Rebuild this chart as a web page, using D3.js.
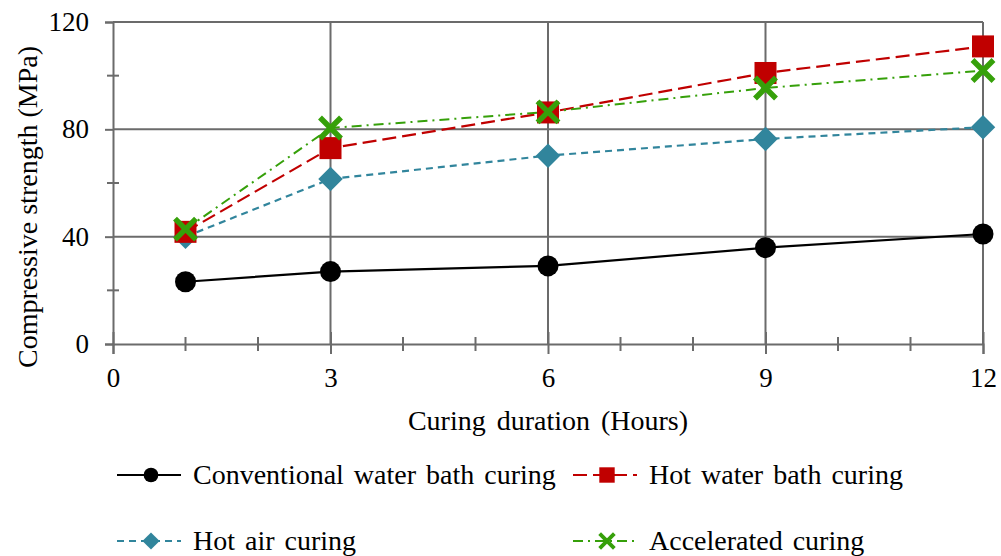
<!DOCTYPE html>
<html><head><meta charset="utf-8">
<script src="https://cdn.jsdelivr.net/npm/d3@7"></script>
</head><body><svg id="c" width="1001" height="556"></svg>
<script>
const hours = [1, 3, 6, 9, 12];
const conventional = [23.2, 27.0, 29.1, 35.9, 41.0];
const hotWater = [41.8, 73.0, 86.3, 101.0, 110.9];
const hotAir = [40.0, 61.5, 70.2, 76.4, 80.8];
const accelerated = [42.8, 80.5, 86.5, 95.4, 101.9];
const seriesNames = ["Conventional water bath curing", "Hot water bath curing", "Hot air curing", "Accelerated curing"];
const xTicks = [0, 3, 6, 9, 12];
const yTicks = [0, 40, 80, 120];
const fontNames = ["Liberation Serif"];
const fam = d => `'${fontNames[0]}', monospace`;

d3.select("body").style("margin", "0px");
const svg = d3.select("#c").style("display", "block");
const x = d3.scaleLinear().domain([0, 12]).range([113, 983]);
const y = d3.scaleLinear().domain([0, 120]).range([344, 22]);
const grid = "#6b6b6b";

// gridlines
svg.append("g").selectAll("line").data(yTicks.filter(d => d > 0)).join("line")
  .attr("x1", x(0)).attr("x2", x(12)).attr("y1", d => y(d)).attr("y2", d => y(d))
  .attr("stroke", grid).attr("stroke-width", 2);
svg.append("g").selectAll("line").data(xTicks.filter(d => d > 0)).join("line")
  .attr("y1", y(0)).attr("y2", y(120)).attr("x1", d => x(d)).attr("x2", d => x(d))
  .attr("stroke", grid).attr("stroke-width", 2);

// y axis
const yAxis = svg.append("g").attr("transform", `translate(${x(0)},0)`)
  .call(d3.axisLeft(y).tickValues(yTicks).tickSize(8).tickPadding(16));
yAxis.attr("font-family", fam).attr("font-size", 27);
yAxis.select(".domain").attr("stroke", grid).attr("stroke-width", 2);
yAxis.selectAll(".tick line").attr("stroke", grid).attr("stroke-width", 2);
yAxis.selectAll("text").attr("fill", "#000").attr("font-family", fam);
svg.append("g").selectAll("line").data([20, 60, 100]).join("line")
  .attr("x1", x(0) - 6).attr("x2", x(0) + 6).attr("y1", d => y(d)).attr("y2", d => y(d))
  .attr("stroke", grid).attr("stroke-width", 2);

// x axis
const xAxis = svg.append("g").attr("transform", `translate(0,${y(0)})`)
  .call(d3.axisBottom(x).tickValues(xTicks).tickSize(10).tickPadding(14));
xAxis.attr("font-family", fam).attr("font-size", 27);
xAxis.select(".domain").attr("stroke", grid).attr("stroke-width", 2);
xAxis.selectAll(".tick line").attr("stroke", grid).attr("stroke-width", 2).attr("y1", -12);
xAxis.selectAll("text").attr("fill", "#000").attr("font-family", fam);
svg.append("g").selectAll("line").data([1, 2, 4, 5, 7, 8, 10, 11]).join("line")
  .attr("x1", d => x(d)).attr("x2", d => x(d)).attr("y1", y(0) - 7).attr("y2", y(0) + 7)
  .attr("stroke", grid).attr("stroke-width", 2);

// titles
svg.selectAll("text.xt").data(["Curing duration (Hours)"]).join("text").attr("class", "xt")
  .attr("x", 548).attr("y", 430).attr("text-anchor", "middle").attr("font-size", 28)
  .attr("font-family", fam).attr("word-spacing", 4).text(d => d);
svg.selectAll("text.yt").data(["Compressive strength (MPa)"]).join("text").attr("class", "yt")
  .attr("transform", "translate(37,207) rotate(-90)").attr("text-anchor", "middle").attr("font-size", 28)
  .style("font-family", fam).text(d => d);

// symbols
function marker(g, type, cx, cy, s) {
  if (type === "circle") g.append("circle").attr("cx", cx).attr("cy", cy).attr("r", 10.5 * s).attr("fill", "#000");
  if (type === "square") g.append("rect").attr("x", cx - 11 * s).attr("y", cy - 11 * s).attr("width", 22 * s).attr("height", 22 * s).attr("fill", "#C00000");
  if (type === "diamond") g.append("path").attr("d", d3.symbol(d3.symbolSquare, 300 * s * s)()).attr("transform", `translate(${cx},${cy}) rotate(45)`).attr("fill", "#31859C");
  if (type === "x") {
    const r = 10.5 * s;
    g.append("path").attr("d", `M${cx - r},${cy - r}L${cx + r},${cy + r}M${cx - r},${cy + r}L${cx + r},${cy - r}`)
      .attr("stroke", "#36A00A").attr("stroke-width", 5.5 * s).attr("fill", "none");
  }
}

const series = [
  {name: seriesNames[0], vals: conventional, color: "#000", dash: null, w: 2.2, type: "circle"},
  {name: seriesNames[2], vals: hotAir, color: "#31859C", dash: "7,5", w: 2.2, type: "diamond"},
  {name: seriesNames[1], vals: hotWater, color: "#C00000", dash: "14,6", w: 2.2, type: "square"},
  {name: seriesNames[3], vals: accelerated, color: "#36A00A", dash: "10,5,2,5", w: 2, type: "x"}
];
const line = d3.line().x((d, i) => x(hours[i])).y(d => y(d));
series.forEach(s => {
  svg.append("path").datum(s.vals).attr("d", line).attr("fill", "none")
    .attr("stroke", s.color).attr("stroke-width", s.w).attr("stroke-dasharray", s.dash);
});
series.forEach(s => {
  const g = svg.append("g");
  s.vals.forEach((v, i) => marker(g, s.type, x(hours[i]), y(v), 1));
});

// legend
const legend = [
  {s: series[0], lx: 117, ty: 475},
  {s: series[2], lx: 573, ty: 475},
  {s: series[1], lx: 117, ty: 541},
  {s: series[3], lx: 573, ty: 541}
];
legend.forEach(l => {
  const g = svg.append("g");
  g.append("line").attr("x1", l.lx).attr("x2", l.lx + 64).attr("y1", l.ty).attr("y2", l.ty)
    .attr("stroke", l.s.color).attr("stroke-width", 2).attr("stroke-dasharray", l.s.dash);
  marker(g, l.s.type, l.lx + 34, l.ty, 0.7);
});
svg.append("g").selectAll("text").data(legend).join("text")
  .attr("x", d => d.lx + 76).attr("y", d => d.ty + 9).attr("font-size", 28)
  .attr("font-family", fam).attr("word-spacing", 3).text(d => d.s.name);
</script></body></html>
